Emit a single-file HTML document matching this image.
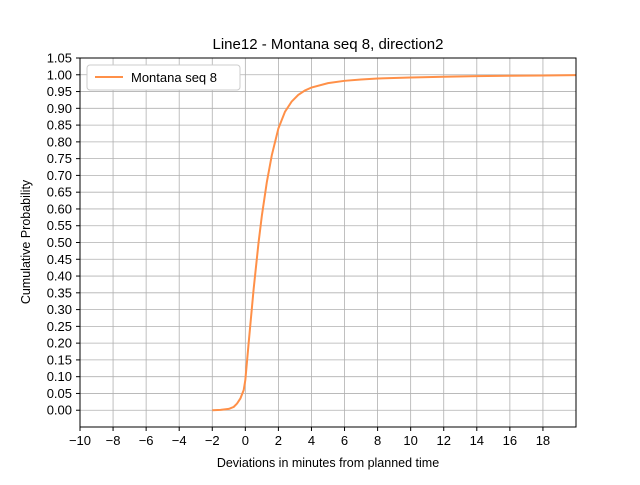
<!DOCTYPE html>
<html><head><meta charset="utf-8"><style>
body{margin:0;background:#fff}
svg text{font-family:"Liberation Sans","DejaVu Sans",sans-serif;fill:#000}
</style></head><body>
<svg id="chart" width="640" height="480">
<text x="328" y="49" font-size="15" text-anchor="middle">Line12 - Montana seq 8, direction2</text>
<g id="grid"></g><g id="ticks"></g>
<polyline id="curve" fill="none" stroke="#ff9048" stroke-width="2"/>
<rect x="80" y="58" width="496" height="369" fill="none" stroke="#000" stroke-width="1"/>
<text x="328" y="467" font-size="12.5" text-anchor="middle">Deviations in minutes from planned time</text>
<text transform="translate(30,242) rotate(-90)" font-size="12.5" text-anchor="middle">Cumulative Probability</text>
<g>
<rect x="87" y="65" width="153" height="25" rx="3" fill="#fff" stroke="#ccc"/>
<line x1="95" y1="77" x2="123" y2="77" stroke="#ff9048" stroke-width="2"/>
<text x="131" y="82" font-size="13">Montana seq 8</text>
</g>
</svg>
<script>
const xTicks=[-10,-8,-6,-4,-2,0,2,4,6,8,10,12,14,16,18];
const yTicks=[0,0.05,0.1,0.15,0.2,0.25,0.3,0.35,0.4,0.45,0.5,0.55,0.6,0.65,0.7,0.75,0.8,0.85,0.9,0.95,1.0,1.05];
const devX=[-2,-1.5,-1,-0.7,-0.5,-0.3,-0.1,0,0.2,0.5,0.8,1,1.3,1.6,2,2.4,2.8,3.2,3.6,4,5,6,7,8,10,12,14,16,18,20];
const cumP=[0,0.001,0.004,0.01,0.02,0.035,0.06,0.09,0.2,0.36,0.5,0.58,0.68,0.76,0.84,0.89,0.92,0.94,0.953,0.962,0.975,0.982,0.986,0.989,0.992,0.994,0.996,0.997,0.998,0.999];
const X=v=>80+(v+10)/30*496, Y=v=>427-(v+0.05)/1.1*369;
const ns="http://www.w3.org/2000/svg";
const g=document.getElementById('grid'),t=document.getElementById('ticks');
function mk(tag,a,p){const e=document.createElementNS(ns,tag);for(const k in a)e.setAttribute(k,a[k]);p.appendChild(e);return e;}
xTicks.forEach(v=>{const x=X(v);
const l=mk('line',{x1:x,x2:x,y1:58,y2:427,stroke:'#b0b0b0','stroke-width':0.8},g);


mk('line',{x1:x,x2:x,y1:427,y2:431,stroke:'#000'},t);
const tx=mk('text',{x:x,y:445,'font-size':13,'text-anchor':'middle'},t);tx.textContent=v<0?'\u2212'+(-v):v;

});
yTicks.forEach(v=>{const y=Y(v);
const l=mk('line',{x1:80,x2:576,y1:y,y2:y,stroke:'#b0b0b0','stroke-width':0.8},g);


mk('line',{x1:76,x2:80,y1:y,y2:y,stroke:'#000'},t);
const tx=mk('text',{x:72,y:y+4.5,'font-size':13,'text-anchor':'end'},t);tx.textContent=v.toFixed(2);

});
document.getElementById('curve').setAttribute('points',devX.map((v,i)=>X(v)+','+Y(cumP[i])).join(' '));
</script>
</body></html>
